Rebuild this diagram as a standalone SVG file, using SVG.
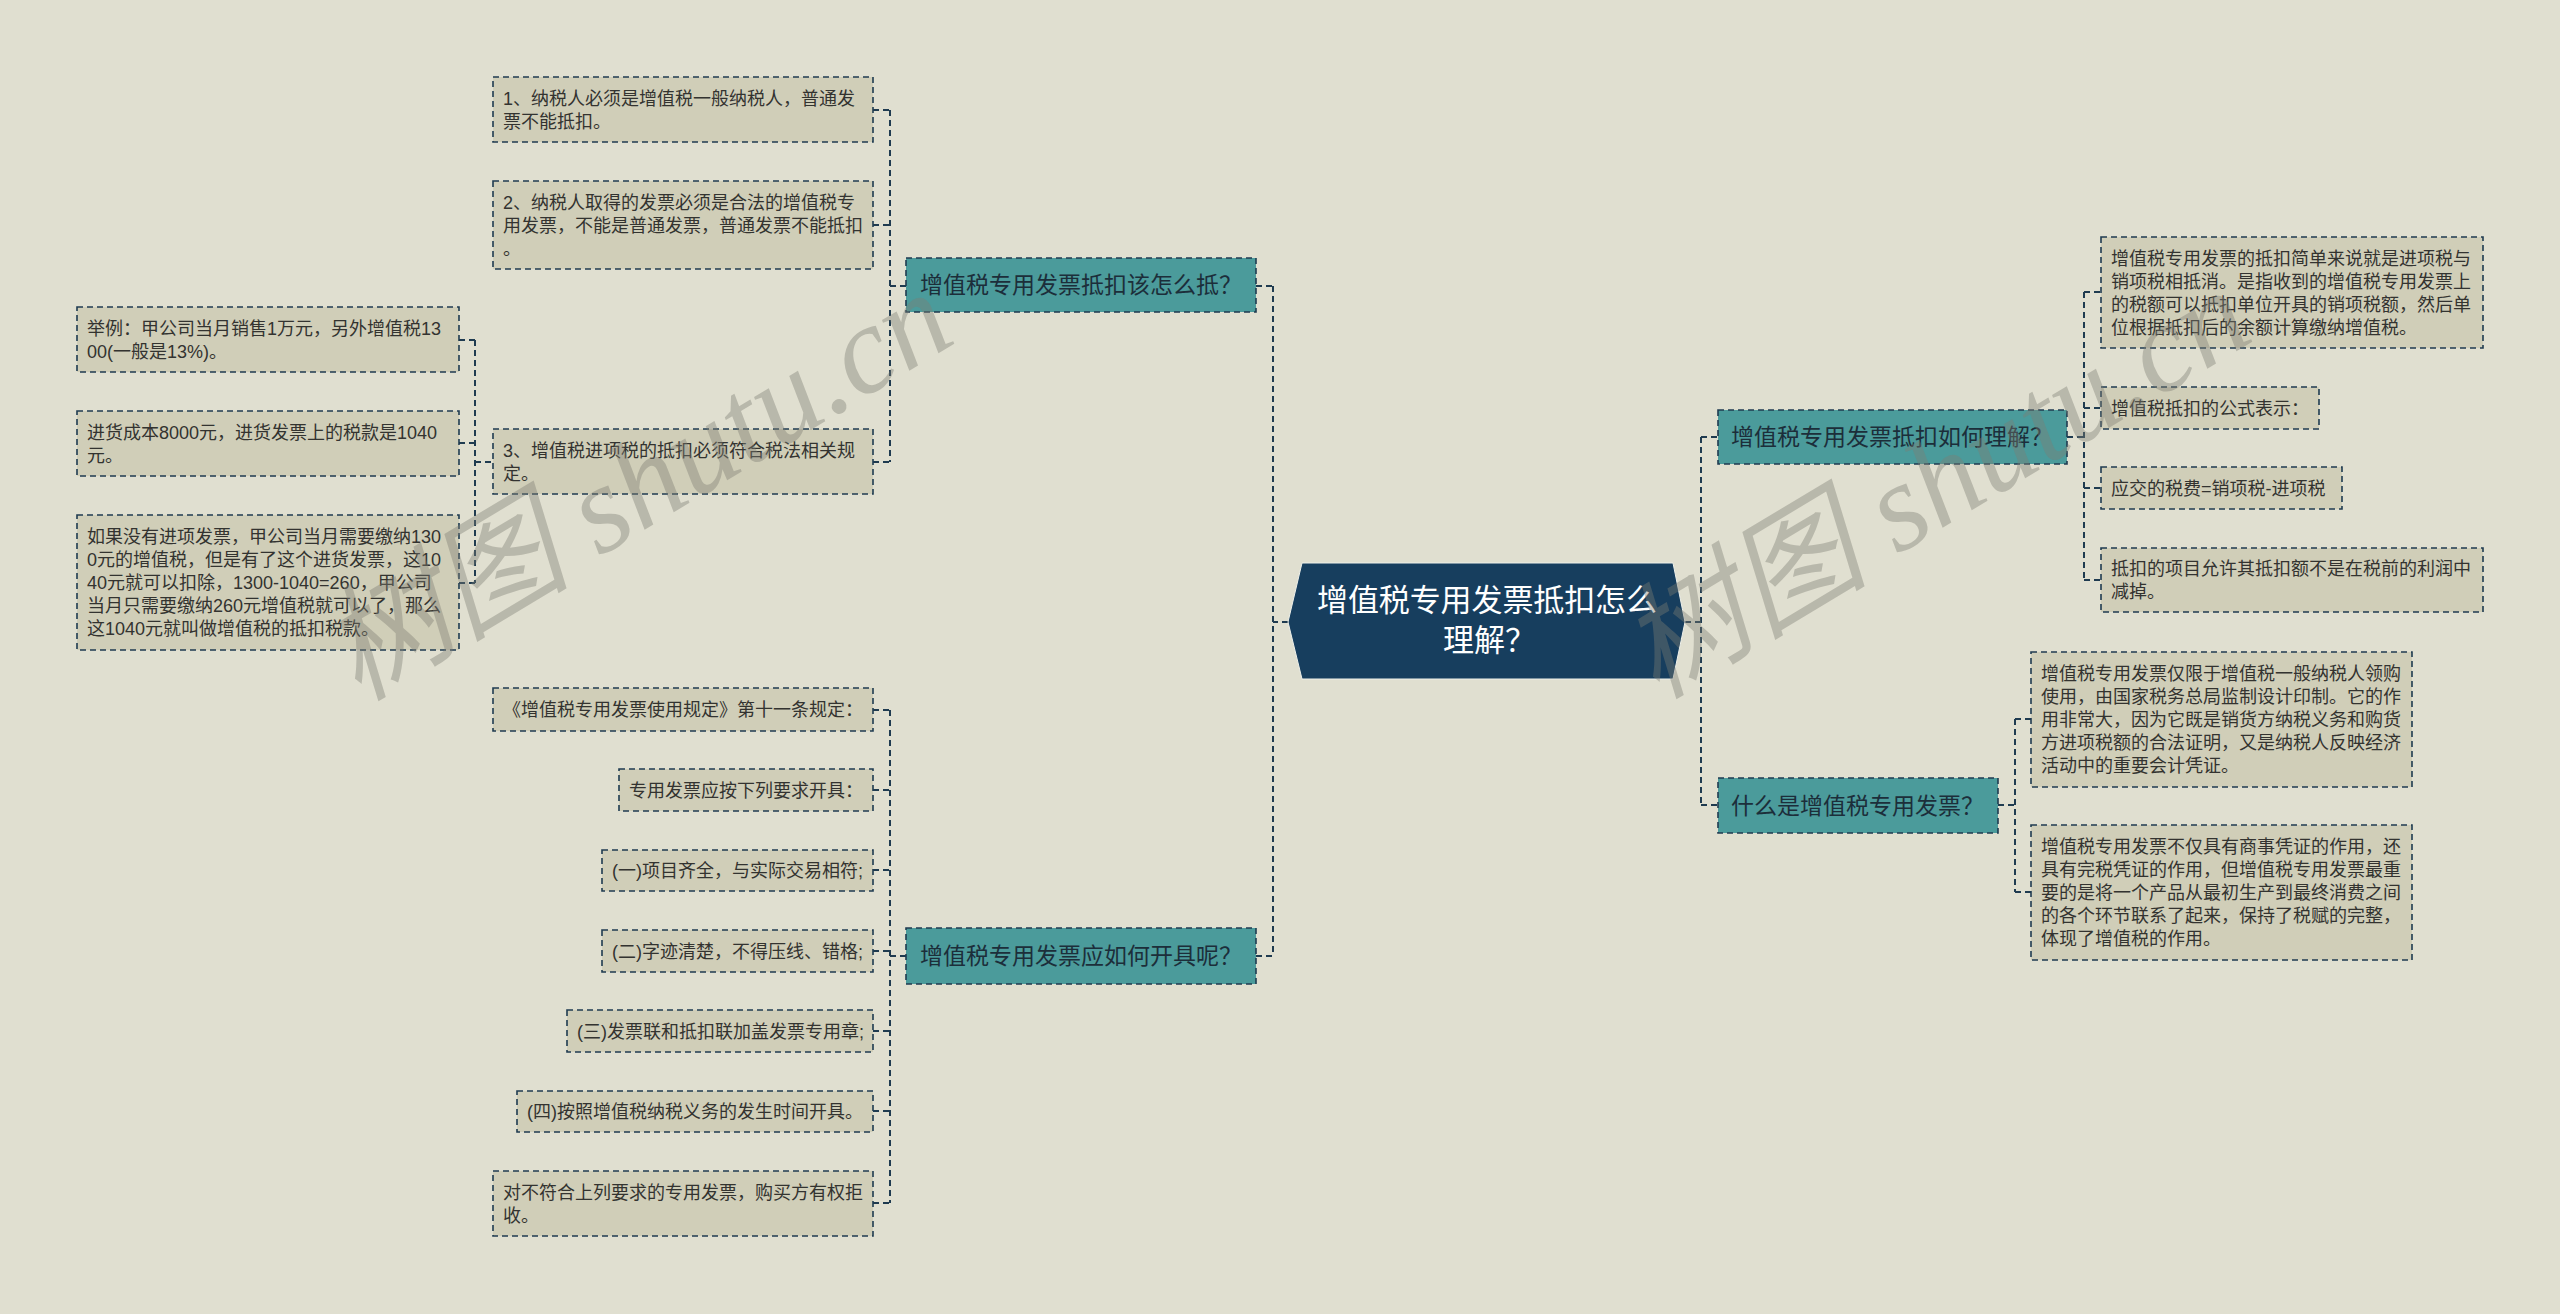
<svg xmlns="http://www.w3.org/2000/svg" width="2560" height="1314" viewBox="0 0 2560 1314">
<style>
.bg{fill:#e0dfd0}
.leaf{fill:#d0ceb8;stroke:#1f3b50;stroke-width:1.6;stroke-dasharray:6 4}
.br{fill:#4b9b9b;stroke:#1f3b50;stroke-width:1.6;stroke-dasharray:6 4}
.lt{font-family:"Liberation Sans","Noto Sans CJK SC",sans-serif;font-size:18px;fill:#333330}
.bt{font-family:"Liberation Sans","Noto Sans CJK SC",sans-serif;font-size:23px;fill:#1c2e3a}
.ct{font-family:"Liberation Sans","Noto Sans CJK SC",sans-serif;font-size:31px;fill:#ffffff}
.cn{fill:none;stroke:#1f3b50;stroke-width:2;stroke-dasharray:6 4}
.wm{font-family:"Liberation Serif","Noto Sans CJK SC",serif;font-style:italic;font-size:125px;fill:#7d7d72;fill-opacity:0.4}
</style>
<rect class="bg" x="0" y="0" width="2560" height="1314"/>

<g id="connectors">
<path class="cn" d="M1288 622H1273M1273 286V956M1256 286H1273M1256 956H1273"/>
<path class="cn" d="M1685 622H1701M1701 437V805M1701 437H1718M1701 805H1718"/>
<path class="cn" d="M890 110V462M873 110H890M873 225H890M873 462H890M890 286H906"/>
<path class="cn" d="M475 340V583M459 340H475M459 443H475M459 583H475M475 462H493"/>
<path class="cn" d="M890 710V1203M873 710H890M873 790H890M873 870H890M873 951H890M873 1031H890M873 1111H890M873 1203H890M890 956H906"/>
<path class="cn" d="M2084 292V580M2067 437H2084M2084 292H2101M2084 408H2101M2084 488H2101M2084 580H2101"/>
<path class="cn" d="M2015 719V892M1998 805H2015M2015 719H2031M2015 892H2031"/>
</g>

<g id="center">
<polygon points="1288,622 1302,563 1673,563 1685,622 1673,679 1302,679" fill="#173e5e" stroke="#eef0ea" stroke-width="1"/>
<text class="ct" x="1317" y="611" textLength="340" lengthAdjust="spacing">增值税专用发票抵扣怎么</text>
<text class="ct" x="1443" y="651">理解？</text>
</g>

<g id="branch-l1">
<rect class="br" x="906" y="258" width="350" height="54"/>
<text class="bt" x="920" y="293">增值税专用发票抵扣该怎么抵？</text>
</g>
<g id="branch-l2">
<rect class="br" x="906" y="928" width="350" height="56"/>
<text class="bt" x="920" y="964">增值税专用发票应如何开具呢？</text>
</g>
<g id="branch-r1">
<rect class="br" x="1718" y="410" width="349" height="54"/>
<text class="bt" x="1731" y="445">增值税专用发票抵扣如何理解？</text>
</g>
<g id="branch-r2">
<rect class="br" x="1718" y="778" width="280" height="55"/>
<text class="bt" x="1731" y="813.5">什么是增值税专用发票？</text>
</g>

<g id="leaf-1">
<rect class="leaf" x="493" y="77" width="380" height="65"/>
<text class="lt" x="503" y="104.5">1、纳税人必须是增值税一般纳税人，普通发</text>
<text class="lt" x="503" y="127.5">票不能抵扣。</text>
</g>
<g id="leaf-2">
<rect class="leaf" x="493" y="181" width="380" height="88"/>
<text class="lt" x="503" y="208.5">2、纳税人取得的发票必须是合法的增值税专</text>
<text class="lt" x="503" y="231.5">用发票，不能是普通发票，普通发票不能抵扣</text>
<text class="lt" x="503" y="254.5">。</text>
</g>
<g id="leaf-3">
<rect class="leaf" x="493" y="429" width="380" height="65"/>
<text class="lt" x="503" y="456.5">3、增值税进项税的抵扣必须符合税法相关规</text>
<text class="lt" x="503" y="479.5">定。</text>
</g>
<g id="leaf-3a">
<rect class="leaf" x="77" y="307" width="382" height="65"/>
<text class="lt" x="87" y="334.5">举例：甲公司当月销售1万元，另外增值税13</text>
<text class="lt" x="87" y="357.5">00(一般是13%)。</text>
</g>
<g id="leaf-3b">
<rect class="leaf" x="77" y="411" width="382" height="65"/>
<text class="lt" x="87" y="438.5">进货成本8000元，进货发票上的税款是1040</text>
<text class="lt" x="87" y="461.5">元。</text>
</g>
<g id="leaf-3c">
<rect class="leaf" x="77" y="515" width="382" height="135"/>
<text class="lt" x="87" y="543">如果没有进项发票，甲公司当月需要缴纳130</text>
<text class="lt" x="87" y="566">0元的增值税，但是有了这个进货发票，这10</text>
<text class="lt" x="87" y="589">40元就可以扣除，1300-1040=260，甲公司</text>
<text class="lt" x="87" y="612">当月只需要缴纳260元增值税就可以了，那么</text>
<text class="lt" x="87" y="635">这1040元就叫做增值税的抵扣税款。</text>
</g>

<g id="leaf-l2a">
<rect class="leaf" x="493" y="688" width="380" height="43"/>
<text class="lt" x="503" y="716">《增值税专用发票使用规定》第十一条规定：</text>
</g>
<g id="leaf-l2b">
<rect class="leaf" x="619" y="769" width="254" height="42"/>
<text class="lt" x="629" y="796.5">专用发票应按下列要求开具：</text>
</g>
<g id="leaf-l2c">
<rect class="leaf" x="602" y="850" width="271" height="41"/>
<text class="lt" x="612" y="877">(一)项目齐全，与实际交易相符;</text>
</g>
<g id="leaf-l2d">
<rect class="leaf" x="602" y="930" width="271" height="42"/>
<text class="lt" x="612" y="957.5">(二)字迹清楚，不得压线、错格;</text>
</g>
<g id="leaf-l2e">
<rect class="leaf" x="567" y="1010" width="306" height="42"/>
<text class="lt" x="577" y="1037.5">(三)发票联和抵扣联加盖发票专用章;</text>
</g>
<g id="leaf-l2f">
<rect class="leaf" x="517" y="1091" width="356" height="41"/>
<text class="lt" x="527" y="1118">(四)按照增值税纳税义务的发生时间开具。</text>
</g>
<g id="leaf-l2g">
<rect class="leaf" x="493" y="1171" width="380" height="65"/>
<text class="lt" x="503" y="1198.5">对不符合上列要求的专用发票，购买方有权拒</text>
<text class="lt" x="503" y="1221.5">收。</text>
</g>

<g id="leaf-r1a">
<rect class="leaf" x="2101" y="237" width="382" height="111"/>
<text class="lt" x="2111" y="264.5">增值税专用发票的抵扣简单来说就是进项税与</text>
<text class="lt" x="2111" y="287.5">销项税相抵消。是指收到的增值税专用发票上</text>
<text class="lt" x="2111" y="310.5">的税额可以抵扣单位开具的销项税额，然后单</text>
<text class="lt" x="2111" y="333.5">位根据抵扣后的余额计算缴纳增值税。</text>
</g>
<g id="leaf-r1b">
<rect class="leaf" x="2101" y="387" width="218" height="42"/>
<text class="lt" x="2111" y="414.5">增值税抵扣的公式表示：</text>
</g>
<g id="leaf-r1c">
<rect class="leaf" x="2101" y="467" width="241" height="42"/>
<text class="lt" x="2111" y="494.5">应交的税费=销项税-进项税</text>
</g>
<g id="leaf-r1d">
<rect class="leaf" x="2101" y="548" width="382" height="64"/>
<text class="lt" x="2111" y="575">抵扣的项目允许其抵扣额不是在税前的利润中</text>
<text class="lt" x="2111" y="598">减掉。</text>
</g>
<g id="leaf-r2a">
<rect class="leaf" x="2031" y="652" width="381" height="135"/>
<text class="lt" x="2041" y="680">增值税专用发票仅限于增值税一般纳税人领购</text>
<text class="lt" x="2041" y="703">使用，由国家税务总局监制设计印制。它的作</text>
<text class="lt" x="2041" y="726">用非常大，因为它既是销货方纳税义务和购货</text>
<text class="lt" x="2041" y="749">方进项税额的合法证明，又是纳税人反映经济</text>
<text class="lt" x="2041" y="772">活动中的重要会计凭证。</text>
</g>
<g id="leaf-r2b">
<rect class="leaf" x="2031" y="825" width="381" height="135"/>
<text class="lt" x="2041" y="853">增值税专用发票不仅具有商事凭证的作用，还</text>
<text class="lt" x="2041" y="876">具有完税凭证的作用，但增值税专用发票最重</text>
<text class="lt" x="2041" y="899">要的是将一个产品从最初生产到最终消费之间</text>
<text class="lt" x="2041" y="922">的各个环节联系了起来，保持了税赋的完整，</text>
<text class="lt" x="2041" y="945">体现了增值税的作用。</text>
</g>

<g id="watermarks">
<text class="wm" transform="translate(358,702) rotate(-31)">树图 shutu.cn</text>
<text class="wm" transform="translate(1656,700) rotate(-31)">树图 shutu.cn</text>
</g>
</svg>
